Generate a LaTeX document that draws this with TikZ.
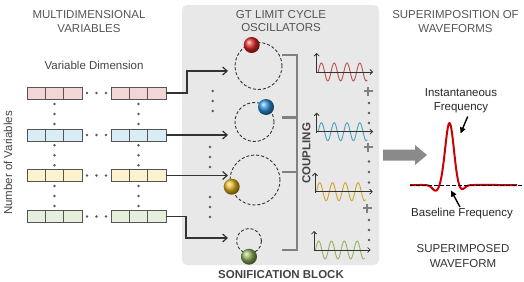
\documentclass[tikz,border=0pt]{standalone}
\usepackage{fontspec}
\setmainfont{Liberation Sans}
\usetikzlibrary{arrows.meta}
\definecolor{titlegray}{HTML}{555555}
\definecolor{labelgray}{HTML}{444444}
\definecolor{cellborder}{HTML}{555555}
\definecolor{rowA}{HTML}{F2D6D6}
\definecolor{rowB}{HTML}{D8EDF5}
\definecolor{rowC}{HTML}{FDF2CE}
\definecolor{rowD}{HTML}{E6EFDB}
\definecolor{dotgray}{HTML}{5A5A5A}
\definecolor{connc}{HTML}{333333}
\definecolor{panelgray}{HTML}{E8E8E8}
\definecolor{dashc}{HTML}{333333}
\definecolor{couplegray}{HTML}{808080}
\definecolor{plusgray}{HTML}{7F7F7F}
\definecolor{arrowgray}{HTML}{8A8A8A}
\definecolor{waveA}{HTML}{B9524E}
\definecolor{waveB}{HTML}{4AA0C0}
\definecolor{waveC}{HTML}{D4A229}
\definecolor{waveD}{HTML}{97B35E}
\definecolor{peakred}{HTML}{CC0000}
\definecolor{ballA}{HTML}{E02828}
\definecolor{ballB}{HTML}{2E92DC}
\definecolor{ballC}{HTML}{E2B21E}
\definecolor{ballD}{HTML}{8DAE58}
\begin{document}
\begin{tikzpicture}[x=1pt,y=-1pt,
  every node/.style={font=\fontsize{11.5}{13.5}\selectfont},
  cell/.style={draw=cellborder, line width=0.9pt, minimum width=18.33pt, minimum height=12pt, inner sep=0pt, outer sep=0pt},
  conn/.style={draw=connc, line width=1.2pt, -{Straight Barb[length=4.5pt,width=8pt]}},
  osc/.style={circle, draw=dashc, line width=0.9pt, dash pattern=on 3pt off 2pt, inner sep=0pt},
  ballnode/.style={circle, inner sep=0pt, minimum size=16pt},
  couple/.style={draw=couplegray, line width=2.2pt},
  axisline/.style={draw=connc, line width=0.8pt, -{Straight Barb[length=2.5pt,width=5pt]}},
  annot/.style={draw=black, line width=1.4pt, -{Triangle[length=6pt,width=5.5pt]}},
  title/.style={text=titlegray, align=center, font=\fontsize{11.5}{13.5}\selectfont},
  label/.style={text=labelgray, align=center, font=\fontsize{11.5}{14}\selectfont},
  boldlabel/.style={text=labelgray, font=\bfseries\fontsize{11.5}{13.5}\selectfont}
]
\useasboundingbox (0,0) rectangle (524,281);

% panel
\node[fill=panelgray, rounded corners=5pt, minimum width=197pt, minimum height=260pt, inner sep=0pt] (panel) at (280.5,135) {};

% titles
\node[title] (tleft) at (89,21.7) {MULTIDIMENSIONAL\\VARIABLES};
\node[title] (tmid) at (281,20.8) {GT LIMIT CYCLE\\OSCILLATORS};
\node[title] (tright) at (455.5,21.3) {SUPERIMPOSITION OF\\WAVEFORMS};
\node[label] (vdim) at (94,65) {Variable Dimension};
\node[label, rotate=90] (nvar) at (8,163) {Number of Variables};
\node[boldlabel] (sblock) at (281,275) {SONIFICATION BLOCK};

% variable rows
\foreach \r/\cy/\col in {1/93/rowA,2/135/rowB,3/175.5/rowC,4/216.5/rowD}{
  \foreach \k/\lx/\rx in {1/36.17/120.17, 2/54.5/138.5, 3/72.83/156.83}{
    \node[cell, fill=\col] (L\r\k) at (\lx,\cy) {};
    \node[cell, fill=\col] (R\r\k) at (\rx,\cy) {};
  }
  \foreach \dx in {87,96.5,106} \fill[dotgray] (\dx,\cy) circle (1.3pt);
}
\foreach \my in {114,155.25,196}{
  \foreach \dy in {-10,0,10}{
    \fill[dotgray] (54.5,\my+\dy) circle (1.3pt);
    \fill[dotgray] (138.5,\my+\dy) circle (1.3pt);
  }
}

% oscillators
\node[osc, minimum size=47pt] (c1) at (258.5,66) {};
\node[osc, minimum size=39pt] (c2) at (254.5,122) {};
\node[osc, minimum size=50pt] (c3) at (255,180) {};
\node[osc, minimum size=25pt] (c4) at (249,241) {};
\node[ballnode, ball color=ballA] (b1) at (251.7,45) {};
\node[ballnode, ball color=ballB] (b2) at (266,107) {};
\node[ballnode, ball color=ballC] (b3) at (231.7,186.7) {};
\node[ballnode, ball color=ballD] (b4) at (249,256.7) {};

% connectors
\coordinate (a1) at (228,71);
\coordinate (a2) at (228,135);
\coordinate (a3) at (228,175.5);
\coordinate (a4) at (228,238);
\draw[conn] (R13.east) -- ++(21,0) |- (a1);
\draw[conn] (R23.east) -- (a2);
\draw[conn] (R33.east) -- (a3);
\draw[conn] (R43.east) -- ++(20,0) |- (a4);

% dots in panel
\foreach \py in {91,101,111} \fill[dotgray] (212.7,\py) circle (1.3pt);
\foreach \py in {147,157,167,197,207,217} \fill[dotgray] (210,\py) circle (1.3pt);

% coupling
\coordinate (k1) at (282,55);
\coordinate (k2) at (282,117.5);
\coordinate (k3) at (282,172);
\coordinate (k4) at (282,250);
\draw[couple] (k1) -- ++(15,0) |- (k4);
\draw[couple] (k2) -- ++(15,0);
\draw[couple] (k3) -- ++(15,0);
\node[boldlabel, rotate=90] (coup) at (306.5,153.3) {COUPLING};

% waveforms
\foreach \ox/\oy/\ex/\wc in {316.7/72/373/waveA, 316.7/131.7/373/waveB, 315/191.7/372.7/waveC, 314/250/370.7/waveD}{
  \draw[\wc, line width=0.9pt] plot[domain=0:49, samples=120, smooth] ({\ox+1.5+\x},{\oy-9*sin(28.125*\x)});
  \draw[axisline] (\ox,\oy+1) -- (\ox,\oy-19);
  \draw[axisline] (\ox,\oy) -- (\ex,\oy);
}

% plus signs and dots
\foreach \px/\py in {368/91, 368/147, 367/208}
  \draw[plusgray, line width=2.4pt] (\px-4.5,\py) -- (\px+4.5,\py) (\px,\py-4.5) -- (\px,\py+4.5);
\foreach \py in {103,113,123,161.5,172,182.5,220,230,240} \fill[dotgray] (369,\py) circle (1.3pt);

% big arrow
\fill[arrowgray] (383,149.5) -- (415,149.5) -- (415,145) -- (427,155) -- (415,165) -- (415,160.5) -- (383,160.5) -- cycle;

% superimposed waveform
\draw[peakred, line width=2pt, line join=round] (410,185) -- (420,185) -- plot[domain=420:478, samples=160] (\x, {185 - 62*exp(max(-9,0-((\x-449.5)/6)^2)) + 6*exp(max(-9,0-((\x-436)/5)^2)) + 5*exp(max(-9,0-((\x-461)/5)^2))}) -- (517,185);
\draw[black, line width=0.9pt, dash pattern=on 3.5pt off 2.5pt] (410,185) -- (524,185);

\node[label, text=black!85] (inst) at (461,100.5) {Instantaneous\\Frequency};
\node[label, text=black!85] (basef) at (462,213.5) {Baseline Frequency};
\node[label, text=black!80, font=\fontsize{11.5}{15}\selectfont] (supw) at (463,256.5) {SUPERIMPOSED\\WAVEFORM};
\coordinate (ias) at (467.7,116.5);
\coordinate (iat) at (460.5,133.5);
\coordinate (bas) at (460,207);
\coordinate (bat) at (451,190.5);
\draw[annot] (ias) -- (iat);
\draw[annot] (bas) -- (bat);
\end{tikzpicture}
\end{document}
